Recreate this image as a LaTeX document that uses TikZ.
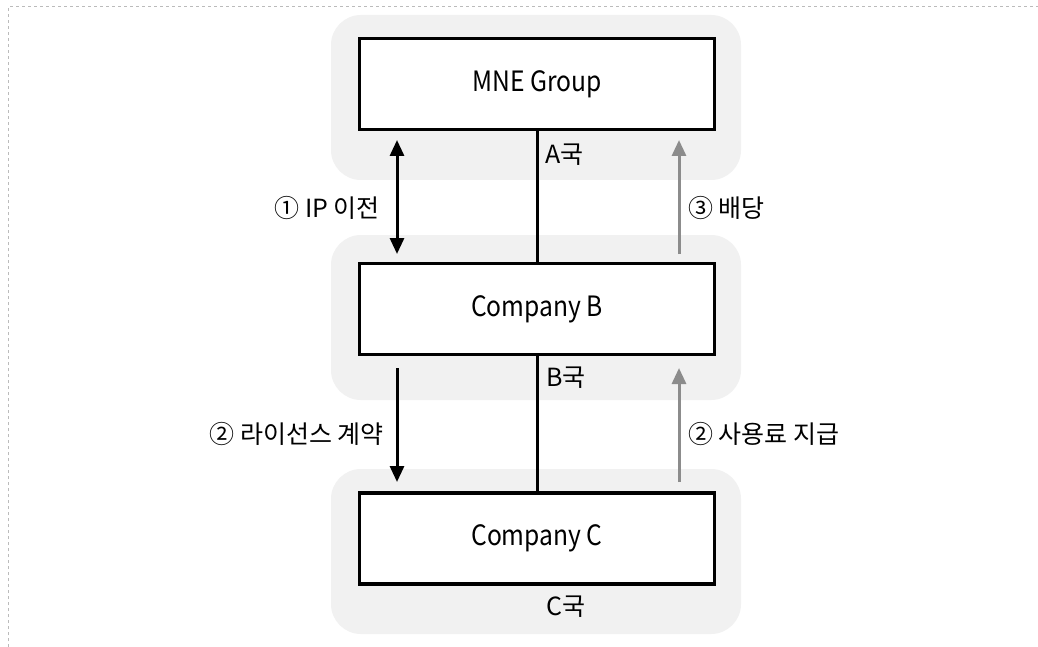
\documentclass[tikz,border=0pt]{standalone}
\usepackage{fontspec}
\setmainfont{Noto Sans CJK KR}
\newfontfamily\boxfont{Noto Sans CJK KR}[FakeStretch=0.88]
\usetikzlibrary{arrows.meta}
\definecolor{bandgray}{HTML}{F1F1F1}
\definecolor{arrgray}{HTML}{8C8C8C}
\definecolor{framegray}{HTML}{BBBBBB}
\tikzset{
  band/.style={fill=bandgray, draw=none, rounded corners=30pt},
  entity/.style={draw=black, line width=3.2pt, fill=white, minimum width=355pt, minimum height=91pt, inner sep=0pt, font=\boxfont\fontsize{28}{30}\selectfont},
  flowblack/.style={line width=3pt, draw=black},
  flowgray/.style={line width=3pt, draw=arrgray},
  lbl/.style={font=\fontsize{25}{27}\selectfont, inner sep=0pt},
  country/.style={font=\fontsize{25}{27}\selectfont, inner sep=0pt, anchor=west}
}
\begin{document}
\begin{tikzpicture}[x=1pt,y=-1pt]
\useasboundingbox (0,0) rectangle (1038,647);
\fill[white] (0,0) rectangle (1038,647);
% frame
\draw[framegray, line width=1pt, dashed] (8,647) -- (8,7) -- (1038,7);
% bands
\fill[band] (331,15) rectangle (741,180);
\fill[band] (331,235) rectangle (741,400);
\fill[band] (331,469) rectangle (741,634);
% boxes
\node[entity] (mne) at (537,84) {MNE Group};
\node[entity] (cb) at (537,309) {Company B};
\node[entity] (cc) at (537,538.5) {Company C};
% vertical connectors
\draw[line width=3pt] (mne.south) -- (cb.north);
\draw[line width=3pt] (cb.south) -- (cc.north);
% arrow coordinates
\coordinate (l1t) at (397,140);
\coordinate (l1b) at (397,254);
\coordinate (r1t) at (679,140);
\coordinate (r1b) at (679,254);
\coordinate (l2t) at (397,368);
\coordinate (l2b) at (397,482);
\coordinate (r2t) at (679,368);
\coordinate (r2b) at (679,482);
\draw[flowblack, {Triangle[width=14pt,length=16pt]}-{Triangle[width=14pt,length=16pt]}] (l1b) -- (l1t);
\draw[flowgray, -{Triangle[width=14pt,length=16pt]}] (r1b) -- (r1t);
\draw[flowblack, -{Triangle[width=14pt,length=16pt]}] (l2t) -- (l2b);
\draw[flowgray, -{Triangle[width=14pt,length=16pt]}] (r2b) -- (r2t);
% labels
\node[lbl, anchor=east] (t1) at (380,208) {① IP 이전};
\node[lbl, anchor=west] (t3) at (688,208) {③ 배당};
\node[lbl, anchor=east] (t2a) at (384,434) {② 라이선스 계약};
\node[lbl, anchor=west] (t2b) at (688,434) {② 사용료 지급};
\node[country] (ca) at (545,155) {A국};
\node[country] (cbn) at (546,378) {B국};
\node[country] (ccn) at (546,607) {C국};
\end{tikzpicture}
\end{document}
